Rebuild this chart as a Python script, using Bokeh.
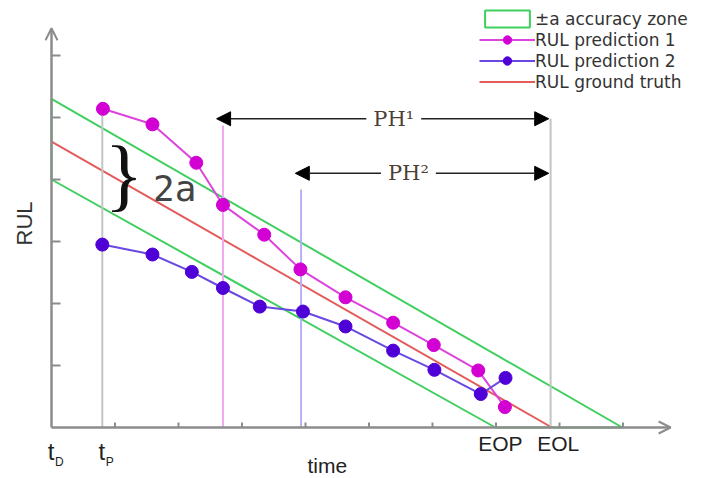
from bokeh.plotting import figure
from bokeh.models import Range1d, Arrow, NormalHead, OpenHead, Label, Legend, LegendItem
from bokeh.embed import file_html
from bokeh.resources import INLINE

# ---------------- data (time / RUL in tick units) ----------------
t_pred1 = [0.81, 1.59, 2.28, 2.70, 3.35, 3.92, 4.63, 5.38, 6.02, 6.72, 7.14]
rul_pred1 = [5.14, 4.89, 4.27, 3.59, 3.11, 2.55, 2.10, 1.69, 1.33, 0.92, 0.33]
t_pred2 = [0.80, 1.59, 2.21, 2.70, 3.28, 3.96, 4.63, 5.38, 6.03, 6.76, 7.15]
rul_pred2 = [2.95, 2.79, 2.51, 2.25, 1.95, 1.87, 1.63, 1.24, 0.93, 0.54, 0.80]

t_truth = [0.0, 7.88]
rul_truth = [4.61, 0.0]
# accuracy zone polygon: upper bound, then lower bound
t_zone = [0.0, 8.99, 6.99, 0.0]
rul_zone = [5.30, 0.0, 0.0, 4.00]

t_D = 0.0
t_P = 0.80
t_ph1 = 2.70
t_ph2 = 3.93
t_EOP = 6.99
t_EOL = 7.86

vline_t = [t_P, t_ph1, t_ph2, t_EOL]
vline_top = [5.25, 4.87, 3.84, 4.98]
vline_color = ["#c4c4c4", "#f2a8f0", "#b8b0f6", "#c4c4c4"]

ph_level = [4.98, 4.10]
ph_start = [t_ph1 - 0.1, t_ph2 - 0.09]
ph_labels = ["PH¹", "PH²"]
ph_label_t = [5.39, 5.62]

x_ticks = [1, 2, 3, 4, 5, 6, 7, 8, 9]
y_ticks = [1, 2, 3, 4, 5, 6]
x_axis_end = 9.75
y_axis_end = 6.44

# ---------------- figure ----------------
PX_X = 63.5
PX_Y = 62.0
W, H = 703, 478


def ry(py):
    """page pixel row -> RUL data value"""
    return (427 - py) / PX_Y


p = figure(width=W, height=H, output_backend="svg", toolbar_location=None,
           x_range=Range1d((0 - 51) / PX_X, (W - 51) / PX_X),
           y_range=Range1d(ry(H), ry(0)),
           min_border=0, min_border_left=0, min_border_right=0,
           min_border_top=0, min_border_bottom=0)
p.axis.visible = False
p.grid.visible = False
p.outline_line_color = None
p.background_fill_color = "white"
p.border_fill_color = "white"

axis_col = "#8c8c8c"

# accuracy zone & ground truth
green = "#3fcf5f"
zone_r = p.patch(t_zone, rul_zone, fill_color="white", fill_alpha=0,
                 line_color=green, line_width=2)
truth_r = p.line(t_truth, rul_truth, line_color="#e35b5b", line_width=2)

# vertical marker lines
p.segment(x0=vline_t, y0=[0] * 4, x1=vline_t, y1=vline_top, line_color=vline_color, line_width=2)

# axes with arrow heads
p.add_layout(Arrow(end=OpenHead(size=12, line_color=axis_col, line_width=2),
                   x_start=0, y_start=0, x_end=x_axis_end, y_end=0,
                   line_color=axis_col, line_width=2.5))
p.add_layout(Arrow(end=OpenHead(size=12, line_color=axis_col, line_width=2),
                   x_start=0, y_start=0, x_end=0, y_end=y_axis_end,
                   line_color=axis_col, line_width=2.5))
# ticks
p.segment(x0=x_ticks, y0=[0] * len(x_ticks), x1=x_ticks, y1=[5 / PX_Y] * len(x_ticks),
          line_color=axis_col, line_width=2)
p.segment(x0=[0] * len(y_ticks), y0=y_ticks, x1=[9 / PX_X] * len(y_ticks), y1=y_ticks,
          line_color=axis_col, line_width=2)

# predictions
l1 = p.line(t_pred1, rul_pred1, line_color="#dd44dd", line_width=2)
s1 = p.scatter(t_pred1, rul_pred1, size=13, fill_color="#d200d2", line_color="#d200d2")
l2 = p.line(t_pred2, rul_pred2, line_color="#6a48e0", line_width=2)
s2 = p.scatter(t_pred2, rul_pred2, size=13, fill_color="#4f00d6", line_color="#4f00d6")

# prediction horizon arrows
for lvl, st in zip(ph_level, ph_start):
    p.add_layout(Arrow(start=NormalHead(size=14, fill_color="black", line_color="black"),
                       end=NormalHead(size=14, fill_color="black", line_color="black"),
                       x_start=st, y_start=lvl, x_end=t_EOL - 0.03, y_end=lvl,
                       line_color="#222222", line_width=1.5))
for lab, lt, lvl in zip(ph_labels, ph_label_t, ph_level):
    p.add_layout(Label(x=lt, y=lvl, text=lab, text_align="center", text_baseline="middle",
                       text_font="DejaVu Serif", text_font_size="21px", text_color="#4d3f36",
                       background_fill_color="white", padding=7))

# 2a brace
p.add_layout(Label(x=0.84, y=ry(173), text="}", text_align="left", text_baseline="middle",
                   text_font="Liberation Serif", text_font_size="80px", text_color="#111111"))
p.add_layout(Label(x=1.60, y=ry(188), text="2a", text_align="left", text_baseline="middle",
                   text_font="DejaVu Sans Mono", text_font_size="36px", text_color="#444444"))

# axis texts
txt = "#222222"
p.add_layout(Label(x=-0.425, y=ry(223), text="RUL", angle=1.5708, text_align="center",
                   text_baseline="middle", text_font="Liberation Sans", text_font_size="22px",
                   text_color="#333333"))
p.add_layout(Label(x=4.03, y=ry(465), text="time", text_align="left",
                   text_baseline="middle", text_font="Liberation Sans",
                   text_font_size="21px", text_color=txt))
for tx, sub in ((t_D, "D"), (t_P, "P")):
    p.add_layout(Label(x=tx - 0.06, y=ry(451), text="t", text_font="Liberation Sans",
                       text_font_size="24px", text_color=txt, text_baseline="middle"))
    p.add_layout(Label(x=tx + 0.055, y=ry(461), text=sub, text_font="Liberation Sans",
                       text_font_size="12px", text_color=txt, text_baseline="middle"))
p.add_layout(Label(x=t_EOP - 0.27, y=ry(443), text="EOP", text_font="Liberation Sans",
                   text_font_size="21px", text_color=txt, text_baseline="middle"))
p.add_layout(Label(x=t_EOL - 0.21, y=ry(443), text="EOL", text_font="Liberation Sans",
                   text_font_size="21px", text_color=txt, text_baseline="middle"))

# legend
legend = Legend(items=[
    LegendItem(label="±a accuracy zone", renderers=[zone_r]),
    LegendItem(label="RUL prediction 1", renderers=[l1, s1]),
    LegendItem(label="RUL prediction 2", renderers=[l2, s2]),
    LegendItem(label="RUL ground truth", renderers=[truth_r]),
], location=(479, H - 92), orientation="vertical", glyph_width=56, glyph_height=21,
    spacing=0, padding=0, margin=0, label_standoff=0, label_height=21,
    label_text_font="DejaVu Sans", label_text_font_size="17px", label_text_color="#333333",
    background_fill_alpha=0, border_line_alpha=0)
p.add_layout(legend)

open("out.html", "w").write(file_html(p, INLINE))
